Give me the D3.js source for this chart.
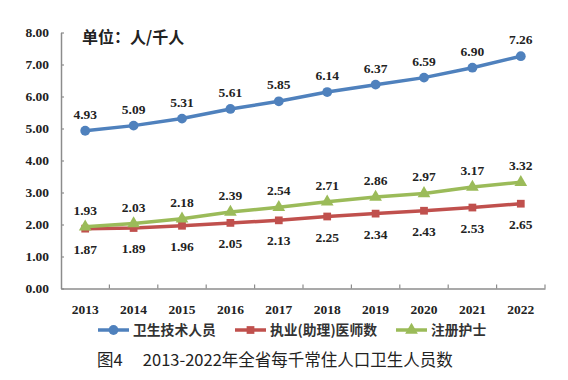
<!DOCTYPE html>
<html><head><meta charset="utf-8">
<script src="https://cdn.jsdelivr.net/npm/d3@7"></script>
<style>body{margin:0;background:#fff}svg{display:block}</style>
</head><body><svg id="c" width="568" height="380"></svg>
<script>
const years = ["2013","2014","2015","2016","2017","2018","2019","2020","2021","2022"];
const techStaff = [4.93,5.09,5.31,5.61,5.85,6.14,6.37,6.59,6.90,7.26];
const doctors = [1.87,1.89,1.96,2.05,2.13,2.25,2.34,2.43,2.53,2.65];
const nurses = [1.93,2.03,2.18,2.39,2.54,2.71,2.86,2.97,3.17,3.32];
const yTicks = [0,1,2,3,4,5,6,7,8];
const seriesNames = ["卫生技术人员","执业(助理)医师数","注册护士"];
const unitLabel = "单位：人/千人";
const caption = "图4\u3000 2013-2022年全省每千常住人口卫生人员数";

const svg = d3.select("#c");
const x = d3.scaleBand().domain(years).range([61,545]);
const y = d3.scaleLinear().domain([0,8]).range([288.5,32.5]);
const serif = "Liberation Serif, Times New Roman, DejaVu Serif, serif";
const cjk = "Noto Sans CJK SC, sans-serif";
const axisCol = "#8c8c8c";

// Y axis
const ya = svg.append("g").attr("transform","translate(61,0)")
  .call(d3.axisLeft(y).tickValues(yTicks).tickFormat(d3.format(".2f")).tickSizeInner(-3).tickSizeOuter(0).tickPadding(12));
ya.select(".domain").attr("stroke",axisCol).attr("stroke-width",1.5);
ya.selectAll(".tick line").attr("stroke",axisCol).attr("stroke-width",1.2);
ya.selectAll("text").style("font-family",serif).style("font-weight","bold").style("font-size","13.5px").attr("fill","#222");

// X axis
const xa = svg.append("g").attr("transform","translate(0,288.5)")
  .call(d3.axisBottom(x).tickSize(0).tickPadding(16));
xa.select(".domain").attr("stroke",axisCol).attr("stroke-width",1.5);
xa.selectAll("text").style("font-family",serif).style("font-weight","bold").style("font-size","13.5px").attr("fill","#222");
const boundaries = years.map(d=>x(d)).concat([x.range()[1]]).slice(1);
svg.append("g").selectAll("line").data(boundaries).join("line")
  .attr("x1",d=>d).attr("x2",d=>d).attr("y1",288.5).attr("y2",284.5)
  .attr("stroke",axisCol).attr("stroke-width",1.2);

const cx = d => x(d)+x.bandwidth()/2;
const line = d3.line().x((d,i)=>cx(years[i])).y(d=>y(d));

const series = [
  {name:seriesNames[0], data:techStaff, color:"#4f81bd", marker:"circle", lab:-12},
  {name:seriesNames[1], data:doctors, color:"#c0504d", marker:"square", lab:25},
  {name:seriesNames[2], data:nurses, color:"#9bbb59", marker:"triangle", lab:-12}
];
const sym = {circle:d3.symbol(d3.symbolCircle,75), square:d3.symbol(d3.symbolSquare,60), triangle:d3.symbol(d3.symbolTriangle,70)};

series.forEach(s=>{
  svg.append("path").datum(s.data).attr("d",line).attr("fill","none")
    .attr("stroke",s.color).attr("stroke-width",3.5).attr("stroke-linejoin","round");
  svg.append("g").selectAll("path").data(s.data).join("path")
    .attr("d",sym[s.marker]())
    .attr("transform",(d,i)=>`translate(${cx(years[i])},${y(d)})`)
    .attr("fill",s.color);
});
series.forEach(s=>{
  svg.append("g").selectAll("text").data(s.data).join("text")
    .attr("x",(d,i)=>cx(years[i])).attr("y",d=>y(d)+s.lab)
    .attr("text-anchor","middle").style("font-family",serif).style("font-weight","bold")
    .style("font-size","13.5px").attr("fill","#222").text(d=>d.toFixed(2));
});

// unit label
svg.append("text").attr("x",82).attr("y",43).style("font-family",cjk).style("font-weight","bold")
  .style("font-size","16px").attr("fill","#222").text(unitLabel);

// legend
const legX = [98,235,396];
const lg = svg.append("g").selectAll("g").data(series).join("g")
  .attr("transform",(d,i)=>`translate(${legX[i]},330)`);
lg.append("line").attr("x1",0).attr("x2",31).attr("y1",0).attr("y2",0)
  .attr("stroke",d=>d.color).attr("stroke-width",3.5);
lg.append("path").attr("d",d=>sym[d.marker]()).attr("transform","translate(15.5,0)").attr("fill",d=>d.color);
lg.append("text").attr("x",35).attr("y",5).style("font-family",cjk).style("font-weight","bold")
  .style("font-size","13.8px").attr("fill","#333").text(d=>d.name);

// caption
svg.append("text").attr("x",97).attr("y",366).style("font-family",cjk)
  .style("font-size","16.5px").attr("fill","#222").text(caption);
</script></body></html>
